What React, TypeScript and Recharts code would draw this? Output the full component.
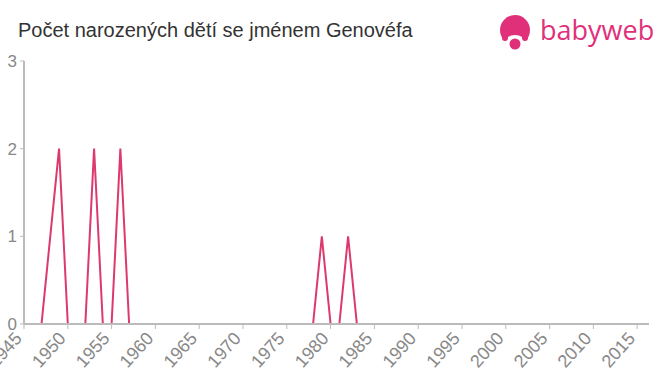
import React from "react";
import { LineChart, Line, XAxis, YAxis } from "recharts";

const years: number[] = [];
for (let y = 1945; y <= 2016; y++) years.push(y);

const nonZero: Record<number, number> = {
  1948: 1,
  1949: 2,
  1953: 2,
  1956: 2,
  1979: 1,
  1982: 1,
};

const counts: number[] = years.map((y) => nonZero[y] ?? 0);
const data = years.map((year, i) => ({ year, count: counts[i] }));

const xTicks = [1945, 1950, 1955, 1960, 1965, 1970, 1975, 1980, 1985, 1990, 1995, 2000, 2005, 2010, 2015];
const yTicks = [0, 1, 2, 3];

const TITLE = "Počet narozených dětí se jménem Genovéfa";
const FONT = "'Liberation Sans', Arial, Helvetica, sans-serif";

const XTick = (props: any) => {
  const { x, y, payload } = props;
  return (
    <g transform={`translate(${x - 1},${y + 8})`}>
      <text
        x={0}
        y={0}
        textAnchor="end"
        transform="rotate(-48)"
        fill="#888"
        fontSize={18}
        fontFamily={FONT}
      >
        {payload.value}
      </text>
    </g>
  );
};

const Logo = () => (
  <svg width={170} height={50} style={{ position: "absolute", left: 490, top: 5 }}>
    <g>
      <circle cx={25} cy={25} r={15} fill="#e0307a" />
      <ellipse cx={25} cy={37} rx={10} ry={7} fill="#fff" />
      <circle cx={15} cy={33} r={3} fill="#e0307a" />
      <circle cx={35} cy={33} r={3} fill="#e0307a" />
      <circle cx={25} cy={39} r={5.5} fill="#e0307a" />
    </g>
    <text x={50} y={35} fontSize={27} fill="#e0307a" fontFamily="'Open Sans', 'DejaVu Sans', sans-serif" fontWeight={500}>
      babyweb
    </text>
  </svg>
);

export default function App() {
  return (
    <div style={{ position: "absolute", left: 0, top: 0, width: 660, height: 375, background: "#fff" }}>
      <div
        style={{
          position: "absolute",
          left: 18,
          top: 19,
          fontSize: 20,
          color: "#333",
          fontFamily: FONT,
          whiteSpace: "nowrap",
        }}
      >
        {TITLE}
      </div>
      <Logo />
      <LineChart
        width={660}
        height={375}
        data={data}
        margin={{ top: 61, right: 11, bottom: 0, left: 0 }}
      >
        <XAxis
          dataKey="year"
          type="number"
          domain={[1945, 2016.35]}
          ticks={xTicks}
          interval={0}
          tick={<XTick />}
          tickLine={{ stroke: "#bbb" }}
          axisLine={{ stroke: "#bbb", strokeWidth: 2 }}
          tickSize={5}
          tickMargin={2}
          height={51}
        />
        <YAxis
          type="number"
          domain={[0, 3]}
          ticks={yTicks}
          width={24}
          tick={{ fill: "#888", fontSize: 17, fontFamily: FONT }}
          tickLine={{ stroke: "#bbb" }}
          axisLine={{ stroke: "#bbb", strokeWidth: 2 }}
          tickSize={4}
          tickMargin={3}
        />
        <Line
          type="linear"
          dataKey="count"
          stroke="#dc3a6d"
          strokeWidth={2}
          dot={false}
          isAnimationActive={false}
        />
      </LineChart>
    </div>
  );
}
